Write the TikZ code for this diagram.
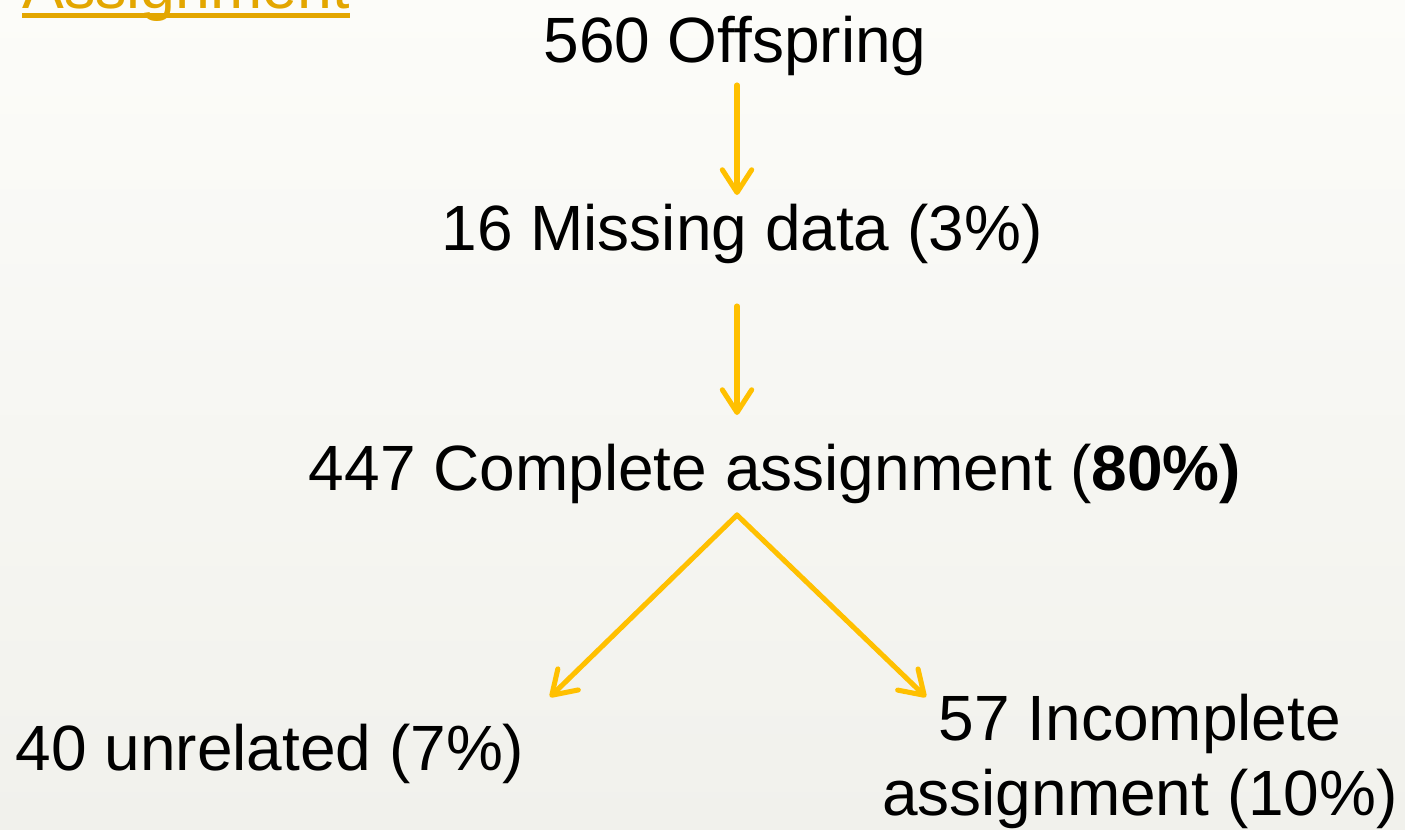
\documentclass[tikz,border=0pt]{standalone}
\usepackage{fontspec}
\setmainfont{Liberation Sans}
\usetikzlibrary{arrows.meta}
\definecolor{seta}{HTML}{FFC000}
\definecolor{linkcor}{HTML}{E3A600}
\definecolor{fundoA}{HTML}{FCFCF9}
\definecolor{fundoB}{HTML}{F1F1EC}
\tikzset{
  texto/.style={anchor=base, inner sep=0pt, font=\fontsize{48}{56}\selectfont},
  flecha/.style={seta, line width=3.8pt, line cap=round,
    -{Straight Barb[length=17pt, width=22pt, line width=3.8pt, round]}}
}
\begin{document}
\begin{tikzpicture}[x=0.75pt, y=-0.75pt]
  % Fundo
  \useasboundingbox (0, 0) rectangle (1405, 829);
  \clip (0, 0) rectangle (1405, 829);
  \shade[top color=fundoA, bottom color=fundoB] (0, 0) rectangle (1405, 829);

  % Titulo
  \node[texto, anchor=base west, text=linkcor, font=\fontsize{47}{56}\selectfont] (titulo) at (22, 8) {Assignment};
  \draw[linkcor, line width=3.5pt] ([yshift=-5.5pt]titulo.base west) -- ([yshift=-5.5pt]titulo.base east);

  % Niveis
  \node[texto] (off) at (735, 62) {560 Offspring};
  \node[texto] (miss) at (742, 250) {16 Missing data (3\%)};
  \node[texto] (comp) at (775, 490) {447 Complete assignment (\textbf{80\%)}};
  \node[texto] (unrel) at (270, 770) {40 unrelated (7\%)};
  \node[texto, align=center] (incomp) at (1140, 815) {57 Incomplete\\assignment (10\%)};

  % Setas
  \coordinate (s1) at (737, 85);
  \coordinate (e1) at (737, 195);
  \coordinate (s2) at (737, 306);
  \coordinate (e2) at (737, 415);
  \coordinate (r) at (737, 515);
  \coordinate (el) at (550, 697);
  \coordinate (er) at (926, 697);
  \draw[flecha] (s1) -- (e1);
  \draw[flecha] (s2) -- (e2);
  \draw[flecha] (r) -- (el);
  \draw[flecha] (r) -- (er);
\end{tikzpicture}
\end{document}
